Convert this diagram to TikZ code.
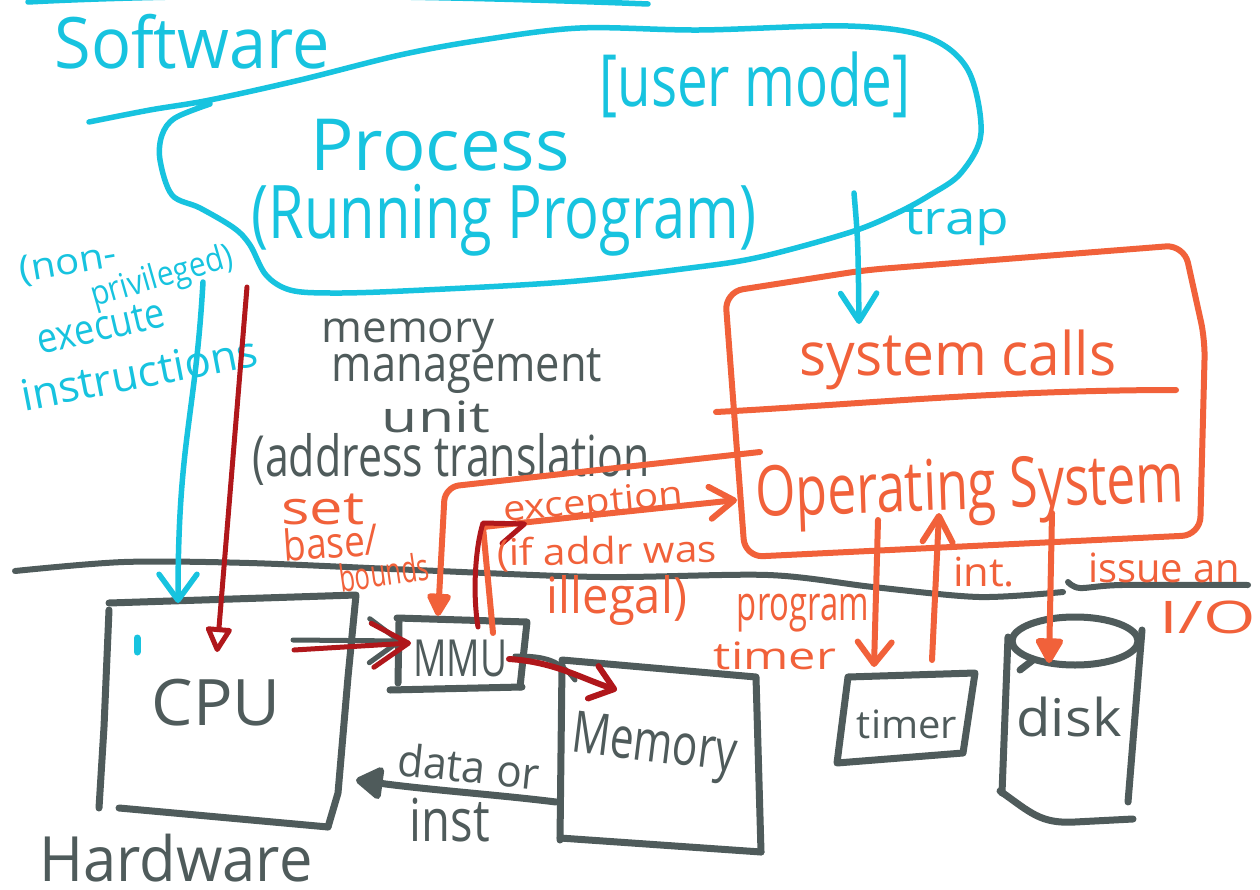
\documentclass[tikz,border=0pt]{standalone}
\usepackage{graphicx}
\usepackage{fontspec}
\setmainfont{Open Sans}
\usetikzlibrary{arrows.meta}
\definecolor{swcyan}{HTML}{17C3DF}
\definecolor{osorange}{HTML}{F1613A}
\definecolor{hwgray}{HTML}{4F5B5B}
\definecolor{pathred}{HTML}{B0171B}
% handwritten-style label squeezed into a given width and total height (pt)
\newcommand{\handtext}[3]{\resizebox*{#1pt}{#2pt}{#3}}
\begin{document}
\begin{tikzpicture}[x=1pt,y=-1pt,
  pen/.style={line cap=round,line join=round},
  swline/.style={pen,draw=swcyan,line width=5.5pt},
  hwline/.style={pen,draw=hwgray,line width=7pt},
  osline/.style={pen,draw=osorange,line width=6pt},
  redline/.style={pen,draw=pathred,line width=5pt},
  lbl/.style={inner sep=0pt,outer sep=0pt},
  swtext/.style={lbl,text=swcyan},
  hwtext/.style={lbl,text=hwgray},
  ostext/.style={lbl,text=osorange}]
\fill[white] (0,0) rectangle (1260,890);
\useasboundingbox (0,0) rectangle (1260,890);

% ---------- software side ----------
\draw[swline] (28,2) .. controls (200,-7) and (420,-5) .. (648,4);
\draw[swline] plot[smooth,tension=0.55] coordinates {
  (89,122) (150,110) (210,100) (300,80) (400,55) (482,40) (580,28) (700,30)
  (848,26) (927,37) (968,70) (981,133) (961,173) (930,195) (897,213) (851,232)
  (760,257) (690,268) (565,282) (403,291) (330,293) (290,290) (266,275)
  (250,245) (234,228) (200,208) (172,195) (160,160) (162,135) (175,118) (210,104)};

\node[swtext] (software) at (192,42) {\handtext{275}{55}{Software}};
\node[swtext] (usermode) at (755,85) {\handtext{311}{66}{[user mode]}};
\node[swtext] (process) at (440,145) {\handtext{259}{52}{Process}};
\node[swtext] (running) at (504,220) {\handtext{505}{72}{(Running Program)}};
\node[swtext] (trap) at (957,225) {\handtext{105}{42}{trap}};
\node[swtext,rotate=10] (nonlbl) at (68,264) {\handtext{98}{32}{(non-}};
\node[swtext,rotate=16] (privlbl) at (162,278) {\handtext{146}{34}{privileged)}};
\node[swtext,rotate=13] (execlbl) at (101,327) {\handtext{130}{28}{execute}};
\node[swtext,rotate=11] (instrlbl) at (139,373) {\handtext{240}{32}{instructions}};

% ---------- memory management unit caption ----------
\node[hwtext] (mem1) at (408,336) {\handtext{173}{34}{memory}};
\node[hwtext] (mem2) at (467,371) {\handtext{270}{45}{management}};
\node[hwtext] (mem3) at (436,417) {\handtext{108}{32}{unit}};
\node[hwtext] (mem4) at (451,459) {\handtext{397}{52}{(address translation}};

% ---------- operating system ----------
\draw[osline,rounded corners=18pt] (725,292) -- (866,270) -- (1184,245) -- (1205,340)
  -- (1200,535) -- (745,557) -- cycle;
\draw[osline] (716,412) .. controls (850,405) and (1000,390) .. (1176,390);
\node[ostext] (syscalls) at (958,360) {\handtext{317}{60}{system calls}};
\node[ostext,rotate=2] (oslbl) at (970,492) {\handtext{429}{68}{Operating System}};

% ---------- hardware / software boundary ----------
\draw[hwline,line width=6pt] plot[smooth] coordinates {(15,571) (124,562) (249,563) (415,570)
  (600,577) (768,575) (873,587) (979,597) (1063,592)};
\draw[hwline,line width=6pt] plot[smooth] coordinates {(1068,582) (1080,588) (1122,585) (1248,585)};
\node[hwtext] (hwlbl) at (176,858) {\handtext{273}{48}{Hardware}};

% ---------- hardware boxes ----------
% CPU
\draw[hwline] (109,603) -- (356,595) -- (348,677) -- (338,793) -- (328,827);
\draw[hwline] (109,610) -- (104,727) -- (99,808);
\draw[hwline] (119,808) -- (328,827);
\draw[swline,line width=7pt] (137,638) -- (137,652);
\node[hwtext] (cpulbl) at (216,703) {\handtext{129}{47}{CPU}};
% MMU
\draw[hwline] (397,618) -- (527,622) -- (520,687);
\draw[hwline] (399,622) -- (398,683);
\draw[hwline] (390,690) -- (522,687);
\node[hwtext] (mmulbl) at (460,658) {\handtext{94}{37}{MMU}};
% Memory
\draw[hwline] (562,660) -- (756,677) -- (761,852);
\draw[hwline] (562,665) -- (560,840);
\draw[hwline] (560,838) -- (761,852);
\node[hwtext,rotate=-7] (memlbl) at (654,748) {\handtext{165}{55}{Memory}};
% timer
\draw[hwline] (848,677) -- (975,673) -- (963,753) -- (837,763) -- cycle;
\node[hwtext] (timerlbl) at (907,724) {\handtext{100}{29}{timer}};
% disk
\draw[hwline] (1075,641) ellipse [x radius=63pt, y radius=24pt];
\draw[hwline] (1008,637) -- (1002,793);
\draw[hwline] (1142,630) -- (1128,802);
\draw[hwline] (1000,791) .. controls (1030,812) and (1040,824) .. (1075,822) -- (1133,819);
\draw[hwline] (1020,670) -- (1033,660);
\node[hwtext] (disklbl) at (1069,717) {\handtext{105}{40}{disk}};

% ---------- connector end points ----------
\coordinate (execTop) at (203,282);
\coordinate (execEnd) at (178,603);
\coordinate (fetchTop) at (247,287);
\coordinate (fetchEnd) at (217,652);
\coordinate (trapTop) at (854,193);
\coordinate (trapEnd) at (859,324);
\coordinate (cpuOut) at (294,650);
\coordinate (mmuIn) at (411,643);
\coordinate (mmuOut) at (509,659);
\coordinate (memIn) at (617,690);
\coordinate (memOut) at (556,802);
\coordinate (cpuIn) at (356,780);
\coordinate (mmuTop) at (493,633);
\coordinate (osIn) at (737,500);
\coordinate (osSet) at (760,452);
\coordinate (mmuSet) at (438,616);
\coordinate (osTimer) at (878,520);
\coordinate (timerIn) at (874,667);
\coordinate (timerOut) at (932,660);
\coordinate (osInt) at (939,513);
\coordinate (osDisk) at (1052,513);
\coordinate (diskIn) at (1049,663);

% ---------- connectors ----------
\draw[swline,-{Straight Barb[length=26pt,width=38pt,round]}] (execTop) .. controls (195,420) and (178,440) .. (execEnd);
\draw[redline,-{Triangle[open,length=28pt,width=28pt,round]}] (fetchTop) -- (fetchEnd);
\draw[swline,-{Straight Barb[length=28pt,width=36pt,round]}] (trapTop) .. controls (858,240) .. (trapEnd);

\draw[hwline,line width=5pt,-{Straight Barb[length=30pt,width=44pt,round]}] (293,640) -- (402,641);
\draw[redline,-{Straight Barb[length=36pt,width=44pt,round]}] (cpuOut) -- (mmuIn);

\draw[hwline,line width=5pt] (515,656) .. controls (545,656) and (560,660) .. (575,680);
\draw[redline,line width=6pt,-{Straight Barb[length=22pt,width=34pt,round]}] (mmuOut) .. controls (555,662) and (580,678) .. (memIn);

\draw[hwline,-{Triangle[length=30pt,width=36pt,round]}] (memOut) .. controls (500,795) and (430,790) .. (cpuIn);
\node[hwtext,rotate=-6] (datalbl) at (469,766) {\handtext{142}{34}{data or}};
\node[hwtext] (instlbl) at (450,820) {\handtext{80}{44}{inst}};

\draw[osline,-{Straight Barb[length=24pt,width=32pt,round]}] (mmuTop) -- (483,527) -- (603,514) -- (osIn);
\draw[redline,-{Straight Barb[right,length=22pt,width=40pt,round]}] (478,627) .. controls (472,590) and (476,545) .. (483,523) -- (527,524);
\draw[osline,rounded corners=14pt,-{Triangle[length=26pt,width=26pt,round]}] (osSet) -- (445,487) -- (mmuSet);

\draw[osline,-{Straight Barb[length=22pt,width=34pt,round]}] (osTimer) -- (timerIn);
\draw[osline,-{Straight Barb[length=26pt,width=30pt,round]}] (timerOut) -- (osInt);
\draw[osline,-{Triangle[length=28pt,width=30pt,round]}] (osDisk) -- (diskIn);

% ---------- orange labels ----------
\node[ostext,rotate=5] (exclbl) at (593,505) {\handtext{180}{34}{exception}};
\node[ostext,rotate=1] (iflbl) at (607,553) {\handtext{220}{34}{(if addr was}};
\node[ostext] (illlbl) at (617,601) {\handtext{140}{50}{illegal)}};
\node[ostext] (setlbl) at (323,509) {\handtext{83}{31}{set}};
\node[ostext,rotate=4] (baselbl) at (331,542) {\handtext{95}{33}{base/}};
\node[ostext,rotate=8] (boundslbl) at (384,572) {\handtext{90}{29}{bounds}};
\node[ostext] (proglbl) at (803,613) {\handtext{132}{38}{program}};
\node[ostext] (ptimerlbl) at (775,656) {\handtext{122}{28}{timer}};
\node[ostext] (intlbl) at (984,572) {\handtext{62}{30}{int.}};
\node[ostext] (issuelbl) at (1164,568) {\handtext{152}{30}{issue an}};
\node[ostext] (iolbl) at (1208,617) {\handtext{96}{33}{I/O}};
\end{tikzpicture}
\end{document}
